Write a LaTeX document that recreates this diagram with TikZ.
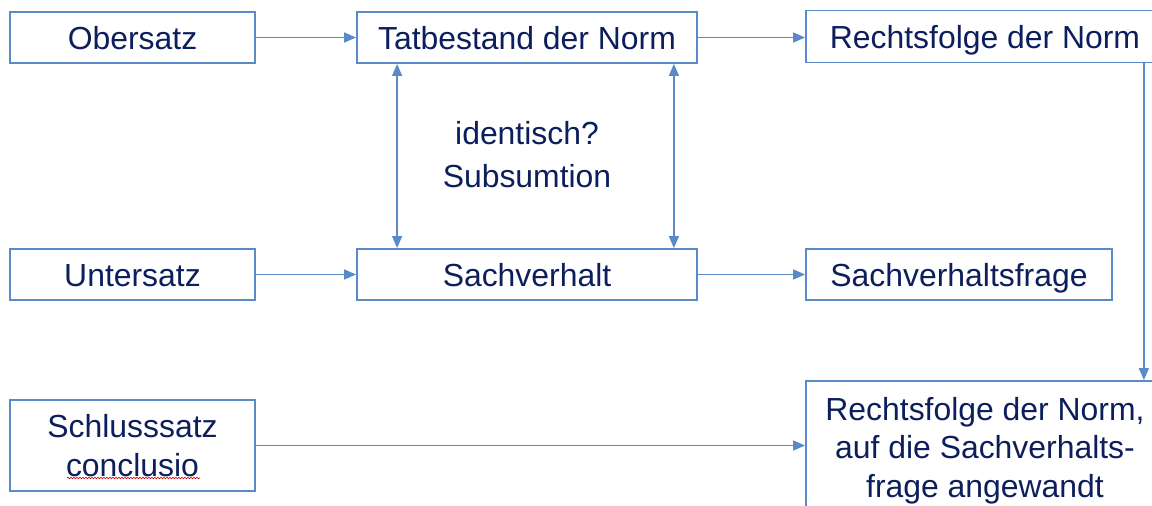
\documentclass[tikz,border=0pt]{standalone}
\usepackage{fontspec}
\setmainfont{Liberation Sans}
\usetikzlibrary{arrows.meta,decorations.pathmorphing}
\definecolor{boxblue}{HTML}{5B8AC9}
\definecolor{navy}{HTML}{0C1F5C}
\begin{document}
\begin{tikzpicture}[x=1pt,y=-1pt,
  box/.style={draw=boxblue,line width=1.8pt,fill=white,text=navy,align=center,
    inner sep=0pt,font=\fontsize{31.9}{38.5}\selectfont},
  one/.style={text height=23pt,text depth=0pt},
  conn/.style={draw=boxblue,line width=1.4pt,-{Triangle[length=12pt,width=10pt]}},
  dconn/.style={draw=boxblue,line width=1.4pt,{Triangle[length=12pt,width=10pt]}-{Triangle[length=12pt,width=10pt]}}
]
\useasboundingbox (0,0) rectangle (1152,506);
\clip (0,0) rectangle (1152,506);
\node[box,one,minimum width=245pt,minimum height=51pt] (ober) at (132.5,37.5) {Obersatz};
\node[box,one,minimum width=340pt,minimum height=51pt] (tat) at (527,37.5) {Tatbestand der Norm};
\node[box,one,minimum width=358pt,minimum height=52pt] (rf) at (985,36.5) {Rechtsfolge der Norm};
\node[box,one,minimum width=245pt,minimum height=51pt] (unter) at (132.5,274.5) {Untersatz};
\node[box,one,minimum width=340pt,minimum height=51pt] (sach) at (527,274.5) {Sachverhalt};
\node[box,one,minimum width=306pt,minimum height=51pt] (frage) at (959,274.5) {Sachverhaltsfrage};
\node[box,minimum width=245pt,minimum height=91pt] (schluss) at (132.5,445.5) {Schlusssatz\\conclusio};
\node[box,text depth=0pt,minimum width=358pt,minimum height=132pt] (anw) at (985,447) {Rechtsfolge der Norm,\\auf die Sachverhalts-\\frage angewandt};
\node[text=navy,align=center,font=\fontsize{31.9}{43}\selectfont] (ident) at (527,155) {identisch?\\Subsumtion};
\draw[red!80!black,line width=0.6pt,decorate,decoration={snake,amplitude=0.8pt,segment length=3pt}] (67,478) -- (200,478);
\draw[conn] (ober.east) -- (tat.west);
\draw[conn] (tat.east) -- (tat.east -| rf.west);
\draw[conn] (unter.east) -- (sach.west);
\draw[conn] (sach.east) -- (sach.east -| frage.west);
\draw[conn] (schluss.east) -- (schluss.east -| anw.west);
\draw[dconn] ([xshift=41pt]tat.south west) -- ([xshift=41pt]sach.north west);
\draw[dconn] ([xshift=-24pt]tat.south east) -- ([xshift=-24pt]sach.north east);
\draw[conn] ([xshift=-21pt]rf.south east) -- ([xshift=-21pt]anw.north east);
\end{tikzpicture}
\end{document}
